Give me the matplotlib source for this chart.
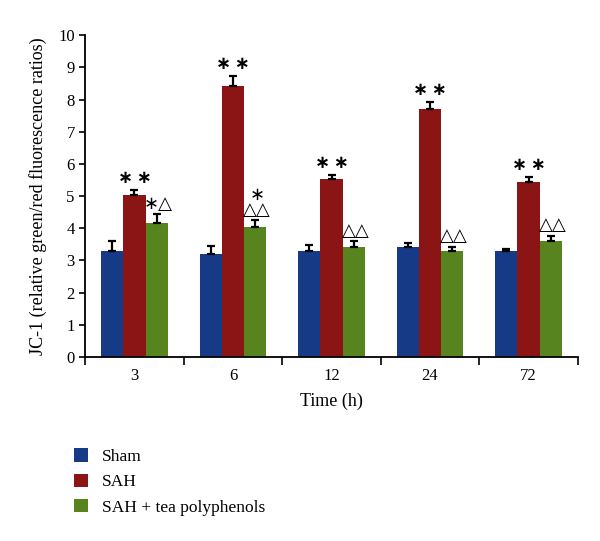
import numpy as np
import matplotlib.pyplot as plt

times = ['3', '6', '12', '24', '72']
sham = [3.28, 3.20, 3.30, 3.43, 3.30]
sham_err = [0.33, 0.26, 0.17, 0.12, 0.07]
sah = [5.02, 8.43, 5.52, 7.70, 5.43]
sah_err = [0.17, 0.31, 0.13, 0.22, 0.16]
tea = [4.17, 4.05, 3.42, 3.28, 3.60]
tea_err = [0.27, 0.20, 0.18, 0.15, 0.17]
sah_marks = ['\u2217\u2009\u2217'] * 5
tea_marks = ['\u2217\u25b3', '\u2217\n\u25b3\u25b3', '\u25b3\u25b3', '\u25b3\u25b3', '\u25b3\u25b3']
series_names = ['Sham', 'SAH', 'SAH + tea polyphenols']

plt.rcParams['font.family'] = ['Liberation Serif', 'DejaVu Sans']

colors = ['#163a86', '#8b1515', '#58841f']
fig = plt.figure(figsize=(6, 5.41), dpi=100)
ax = fig.add_axes([0.142, 0.340, 0.821, 0.595])

x = np.arange(len(times))
w = 0.225
handles = []
for i, (vals, errs) in enumerate([(sham, sham_err), (sah, sah_err), (tea, tea_err)]):
    pos = x + (i - 1) * w
    b = ax.bar(pos, vals, w, color=colors[i], label=series_names[i], zorder=2)
    ax.errorbar(pos, vals, yerr=[np.zeros(len(vals)), errs], fmt='none',
                ecolor='black', elinewidth=1.6, capsize=3, capthick=1.6, zorder=3)
    handles.append(b)

for i in range(len(times)):
    top = sah[i] + sah_err[i]
    ax.text(x[i], top + 0.1, sah_marks[i], ha='center', va='bottom', fontsize=13,
            family=['DejaVu Sans'], fontweight='bold')
    top = tea[i] + tea_err[i]
    ax.text(x[i] + w + 0.02, top + 0.05, tea_marks[i], ha='center', va='bottom', fontsize=13,
            family=['DejaVu Sans'], linespacing=0.75)

ax.set_xlim(-0.5, len(times) - 0.5)
ax.set_ylim(0, 10)
ax.set_yticks(range(0, 11))
ax.set_xticks(np.arange(-0.5, len(times), 1.0))
ax.set_xticklabels([])
ax.set_xticks(x, minor=True)
ax.set_xticklabels(times, minor=True, fontsize=12)
ax.tick_params(axis='x', which='minor', length=0, pad=8)
ax.tick_params(axis='x', which='major', length=6, width=1.2, direction='out')
ax.tick_params(axis='y', length=4, width=1.2, direction='out', labelsize=12)
for s in ['top', 'right']:
    ax.spines[s].set_visible(False)
for s in ['left', 'bottom']:
    ax.spines[s].set_linewidth(1.3)

ax.set_xlabel('Time (h)', fontsize=13, labelpad=6)
ax.set_ylabel('JC-1 (relative green/red fluorescence ratios)', fontsize=13, labelpad=8)

fig.legend(handles=handles, labels=series_names, loc='upper left',
           bbox_to_anchor=(0.098, 0.2), frameon=False, fontsize=12.5,
           handlelength=0.8, handleheight=0.8, handletextpad=0.8, labelspacing=0.5)

fig.savefig('out.png', dpi=100)
